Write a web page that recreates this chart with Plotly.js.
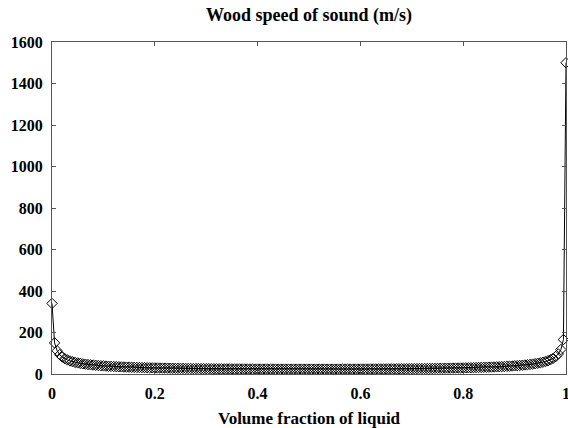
<!DOCTYPE html>
<html>
<head>
<meta charset="utf-8">
<script src="https://cdn.plot.ly/plotly-3.0.1.min.js"></script>
<style>html,body{margin:0;padding:0;background:#fff;}#chart{width:568px;height:428px;}</style>
</head>
<body>
<div id="chart"></div>
<script>
// Volume fraction of liquid (x)
var liquidFraction = [
0,0.005,0.01,0.015,0.02,0.025,0.03,0.035,0.04,0.045,
0.05,0.055,0.06,0.065,0.07,0.075,0.08,0.085,0.09,0.095,
0.1,0.105,0.11,0.115,0.12,0.125,0.13,0.135,0.14,0.145,
0.15,0.155,0.16,0.165,0.17,0.175,0.18,0.185,0.19,0.195,
0.2,0.205,0.21,0.215,0.22,0.225,0.23,0.235,0.24,0.245,
0.25,0.255,0.26,0.265,0.27,0.275,0.28,0.285,0.29,0.295,
0.3,0.305,0.31,0.315,0.32,0.325,0.33,0.335,0.34,0.345,
0.35,0.355,0.36,0.365,0.37,0.375,0.38,0.385,0.39,0.395,
0.4,0.405,0.41,0.415,0.42,0.425,0.43,0.435,0.44,0.445,
0.45,0.455,0.46,0.465,0.47,0.475,0.48,0.485,0.49,0.495,
0.5,0.505,0.51,0.515,0.52,0.525,0.53,0.535,0.54,0.545,
0.55,0.555,0.56,0.565,0.57,0.575,0.58,0.585,0.59,0.595,
0.6,0.605,0.61,0.615,0.62,0.625,0.63,0.635,0.64,0.645,
0.65,0.655,0.66,0.665,0.67,0.675,0.68,0.685,0.69,0.695,
0.7,0.705,0.71,0.715,0.72,0.725,0.73,0.735,0.74,0.745,
0.75,0.755,0.76,0.765,0.77,0.775,0.78,0.785,0.79,0.795,
0.8,0.805,0.81,0.815,0.82,0.825,0.83,0.835,0.84,0.845,
0.85,0.855,0.86,0.865,0.87,0.875,0.88,0.885,0.89,0.895,
0.9,0.905,0.91,0.915,0.92,0.925,0.93,0.935,0.94,0.945,
0.95,0.955,0.96,0.965,0.97,0.975,0.98,0.985,0.99,0.995,
1
];
// Wood speed of sound (m/s)
var woodSpeed = [
340,
150,111.9,93.3,81.8,73.7,67.7,63.1,59.3,56.1,53.4,
51.1,49.1,47.4,45.8,44.4,43.1,42.0,40.9,39.9,39.1,
38.2,37.5,36.8,36.1,35.5,34.9,34.3,33.8,33.3,32.9,
32.4,32.0,31.6,31.3,30.9,30.6,30.3,29.9,29.7,29.4,
29.1,28.9,28.6,28.4,28.2,27.9,27.7,27.5,27.3,27.2,
27.0,26.8,26.6,26.5,26.3,26.2,26.1,25.9,25.8,25.7,
25.6,25.4,25.3,25.2,25.1,25.0,24.9,24.8,24.8,24.7,
24.6,24.5,24.4,24.4,24.3,24.2,24.2,24.1,24.1,24.0,
24.0,23.9,23.9,23.8,23.8,23.8,23.7,23.7,23.7,23.7,
23.6,23.6,23.6,23.6,23.6,23.6,23.6,23.5,23.5,23.5,
23.5,23.6,23.6,23.6,23.6,23.6,23.6,23.6,23.6,23.7,
23.7,23.7,23.8,23.8,23.8,23.9,23.9,23.9,24.0,24.0,
24.1,24.1,24.2,24.3,24.3,24.4,24.5,24.5,24.6,24.7,
24.8,24.9,24.9,25.0,25.1,25.2,25.4,25.5,25.6,25.7,
25.8,26.0,26.1,26.2,26.4,26.5,26.7,26.8,27.0,27.2,
27.4,27.6,27.8,28.0,28.2,28.4,28.7,28.9,29.2,29.4,
29.7,30.0,30.3,30.7,31.0,31.4,31.7,32.1,32.5,33.0,
33.4,33.9,34.5,35.0,35.6,36.2,36.9,37.6,38.4,39.3,
40.2,41.1,42.2,43.4,44.7,46.1,47.8,49.6,51.6,54.0,
56.8,60.1,64.0,69.0,75.4,84.0,96.7,118.0,166.0,1500
];
var xTickVals = [0, 0.2, 0.4, 0.6, 0.8, 1];
var xTickText = ['0', '0.2', '0.4', '0.6', '0.8', '1'];
var yTickVals = [0, 200, 400, 600, 800, 1000, 1200, 1400, 1600];
var yTickText = ['0', '200', '400', '600', '800', '1000', '1200', '1400', '1600'];

var serif = 'Liberation Serif';

var trace = {
  x: liquidFraction,
  y: woodSpeed,
  type: 'scatter',
  mode: 'lines+markers',
  line: {color: '#000', width: 1},
  marker: {symbol: 'diamond-open', size: 8, color: '#000', line: {color: '#000', width: 1}},
  cliponaxis: false,
  showlegend: false
};

var layout = {
  width: 568, height: 428,
  margin: {l: 52, r: 2, t: 42, b: 54},
  paper_bgcolor: '#fff', plot_bgcolor: '#fff',
  font: {family: serif, color: '#000'},
  title: {text: '<b>Wood speed of sound (m/s)</b>', font: {family: serif, size: 18, color: '#000'},
          x: 0.544, xanchor: 'center', y: 0.966, yanchor: 'middle'},
  xaxis: {
    range: [0, 1], tickvals: xTickVals, ticktext: xTickText,
    ticks: 'inside', ticklen: 4, tickcolor: '#555', mirror: 'ticks',
    showline: true, linecolor: '#555', linewidth: 1, showgrid: false, zeroline: false,
    ticklabeloverflow: 'allow', ticklabelstandoff: 5,
    tickfont: {family: serif, size: 16, color: '#000', weight: 'bold'},
    title: {text: '<b>Volume fraction of liquid</b>', font: {family: serif, size: 17, color: '#000'}, standoff: 10}
  },
  yaxis: {
    range: [0, 1600], tickvals: yTickVals, ticktext: yTickText,
    ticks: 'inside', ticklen: 4, tickcolor: '#555', mirror: 'ticks',
    showline: true, linecolor: '#555', linewidth: 1, showgrid: false, zeroline: false,
    ticklabelstandoff: 5,
    tickfont: {family: serif, size: 16, color: '#000', weight: 'bold'}
  }
};

Plotly.newPlot('chart', [trace], layout, {displayModeBar: false, staticPlot: true});
</script>
</body>
</html>
